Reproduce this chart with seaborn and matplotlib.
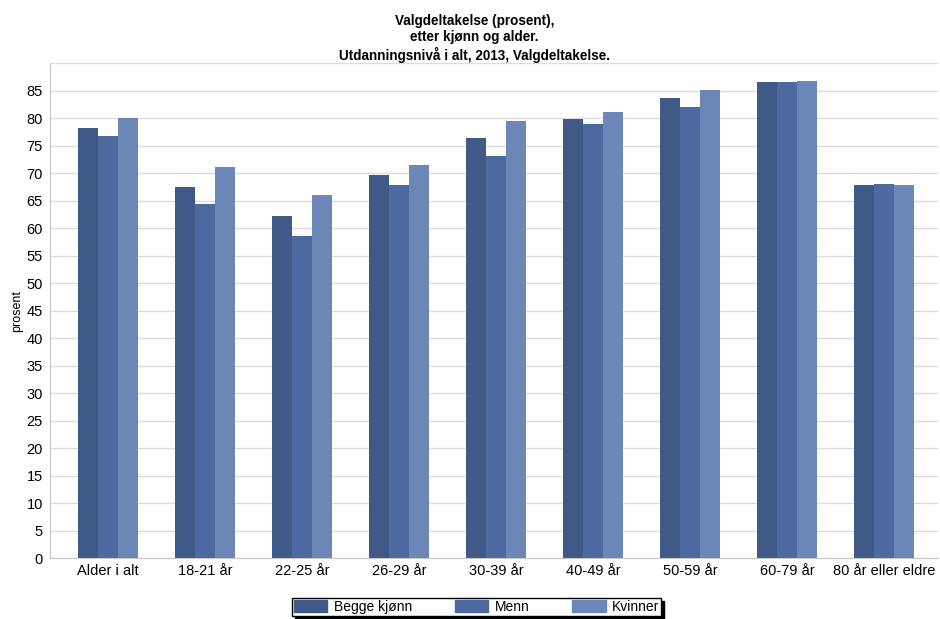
import pandas as pd
import matplotlib.pyplot as plt
import seaborn as sns

# Data
alder = ["Alder i alt", "18-21 år", "22-25 år", "26-29 år", "30-39 år",
         "40-49 år", "50-59 år", "60-79 år", "80 år eller eldre"]
begge_kjonn = [78.2, 67.5, 62.2, 69.7, 76.3, 79.9, 83.7, 86.6, 67.9]
menn = [76.8, 64.3, 58.6, 67.9, 73.2, 79.0, 82.1, 86.5, 68.1]
kvinner = [80.0, 71.2, 66.1, 71.5, 79.5, 81.2, 85.2, 86.8, 67.9]
serier = ["Begge kjønn", "Menn", "Kvinner"]
farger = ["#3f5a87", "#4d6aa0", "#6a87b7"]

df = pd.DataFrame({"alder": alder * 3,
                   "kjonn": [s for s in serier for _ in alder],
                   "verdi": begge_kjonn + menn + kvinner})

sns.set_style("white")
plt.rcParams["font.family"] = ["Liberation Sans", "DejaVu Sans"]
plt.rcParams["text.color"] = "black"
plt.rcParams["axes.labelcolor"] = "black"
plt.rcParams["xtick.labelcolor"] = "black"
plt.rcParams["ytick.labelcolor"] = "black"

fig = plt.figure(figsize=(9.4, 6.19), dpi=100)
ax = fig.add_axes([0.053, 0.0985, 0.945, 0.7995])

sns.barplot(data=df, x="alder", y="verdi", hue="kjonn", palette=farger,
            hue_order=serier, order=alder, width=0.62, saturation=1,
            ax=ax, legend=False, edgecolor="none")

ax.set_ylim(0, 90)
ax.set_xlim(-0.6, 8.56)
ax.set_yticks(range(0, 90, 5))
ax.yaxis.grid(True, color="#dcdcdc", linewidth=1)
ax.axhline(90, color="#dcdcdc", linewidth=1)
ax.set_axisbelow(True)
for s in ["top", "right"]:
    ax.spines[s].set_visible(False)
ax.spines["left"].set_color("#c8c8c8")
ax.spines["bottom"].set_color("#c8c8c8")
ax.tick_params(axis="both", labelsize=10.5, length=3, color="#c8c8c8", pad=2)
ax.tick_params(axis="x", length=0, pad=4)
ax.set_xlabel("")
ax.set_ylabel("prosent", fontsize=9)
ax.yaxis.set_label_coords(-0.03, 0.5)

fig.text(0.505, 0.978, "Valgdeltakelse (prosent),\netter kjønn og alder.\nUtdanningsnivå i alt, 2013, Valgdeltakelse.",
         ha="center", va="top", fontsize=9.75, fontweight="bold", linespacing=1.2)

handles = [plt.Rectangle((0, 0), 1, 1, color=c) for c in farger]
leg = fig.legend(handles, serier, loc="lower center", bbox_to_anchor=(0.507, -0.002),
                 ncol=3, fontsize=10, frameon=True, fancybox=False,
                 shadow={"color": "black", "alpha": 1},
                 handlelength=2.4, handleheight=0.9, columnspacing=3.1,
                 borderpad=0.15, handletextpad=0.45, borderaxespad=0.3)
leg.get_frame().set_edgecolor("black")
leg.get_frame().set_linewidth(1)

fig.savefig("out.png", dpi=100)
